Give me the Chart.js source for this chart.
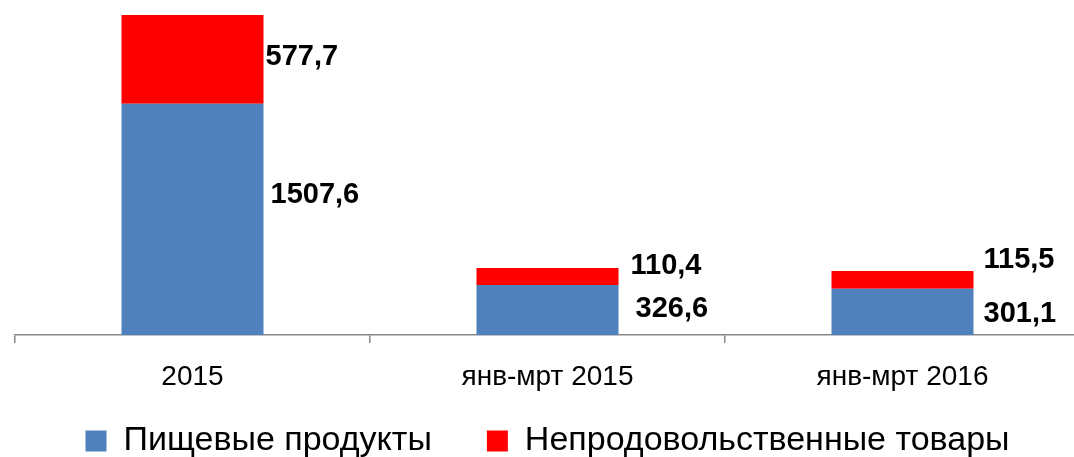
<!DOCTYPE html>
<html>
<head>
<meta charset="utf-8">
<script src="https://cdn.jsdelivr.net/npm/chart.js@4/dist/chart.umd.min.js"></script>
<style>
  html, body { margin: 0; padding: 0; background: #fff; overflow: hidden; width: 1074px; height: 457px; }
  #wrap { position: absolute; left: 0; top: 0; width: 1080px; height: 510px; }
</style>
</head>
<body>
<div id="wrap"><canvas id="c"></canvas></div>
<script>
const categories = ["2015", "янв-мрт 2015", "янв-мрт 2016"];
const seriesNames = ["Пищевые продукты", "Непродовольственные товары"];
const foodValues = [1507.6, 326.6, 301.1];
const nonFoodValues = [577.7, 110.4, 115.5];

const FONT = "'Liberation Sans', Arial, sans-serif";

const barLabels = {
  id: 'barLabels',
  afterDatasetsDraw(chart, args, opts) {
    const ctx = chart.ctx;
    ctx.save();
    ctx.font = 'bold ' + opts.size + 'px ' + FONT;
    ctx.fillStyle = '#000';
    ctx.textAlign = 'left';
    ctx.textBaseline = 'middle';
    chart.data.datasets.forEach((ds, di) => {
      const meta = chart.getDatasetMeta(di);
      meta.data.forEach((el, i) => {
        const off = (opts.offsets[di] || [])[i] || [8, 0];
        const x = el.x + el.width / 2 + off[0];
        const y = (el.y + el.base) / 2 + off[1];
        ctx.fillText(ds.data[i].toFixed(1).replace('.', ','), x, y);
      });
    });
    ctx.restore();
  }
};

// moves the legend box up so its horizontal item spacing can stay wide
const legendShift = {
  id: 'legendShift',
  afterLayout(chart, args, opts) {
    if (chart.legend) {
      chart.legend.top -= opts.dy;
      chart.legend.bottom -= opts.dy;
    }
  }
};

new Chart(document.getElementById('c'), {
  type: 'bar',
  data: {
    labels: categories,
    datasets: [
      { label: seriesNames[0], data: foodValues, backgroundColor: '#4F81BD' },
      { label: seriesNames[1], data: nonFoodValues, backgroundColor: '#FF0000' }
    ]
  },
  options: {
    responsive: true,
    maintainAspectRatio: false,
    animation: false,
    devicePixelRatio: 1,
    layout: { padding: { left: 15, right: 0, top: 0, bottom: 0 } },
    datasets: { bar: { categoryPercentage: 1.0, barPercentage: 0.4 } },
    scales: {
      x: {
        stacked: true,
        offset: true,
        grid: { offset: true, drawOnChartArea: false, drawTicks: true, tickLength: 8, color: '#888888', lineWidth: 1.5 },
        border: { display: true, color: '#888888', width: 1.5 },
        ticks: { color: '#000', font: { family: FONT, size: 28, lineHeight: 1.0 }, padding: 20, maxRotation: 0 }
      },
      y: {
        stacked: true,
        display: false,
        min: 0,
        max: 2183
      }
    },
    plugins: {
      legend: {
        position: 'bottom',
        labels: {
          color: '#000',
          font: { family: FONT, size: 34 },
          boxWidth: 21,
          boxHeight: 21,
          padding: 55
        }
      },
      legendShift: { dy: 42 },
      tooltip: { enabled: false },
      barLabels: {
        size: 29,
        offsets: [
          [[7, -24], [17, -1], [10, 2]],
          [[2, -2], [12, -10], [10, -20]]
        ]
      }
    }
  },
  plugins: [barLabels, legendShift]
});
</script>
</body>
</html>
